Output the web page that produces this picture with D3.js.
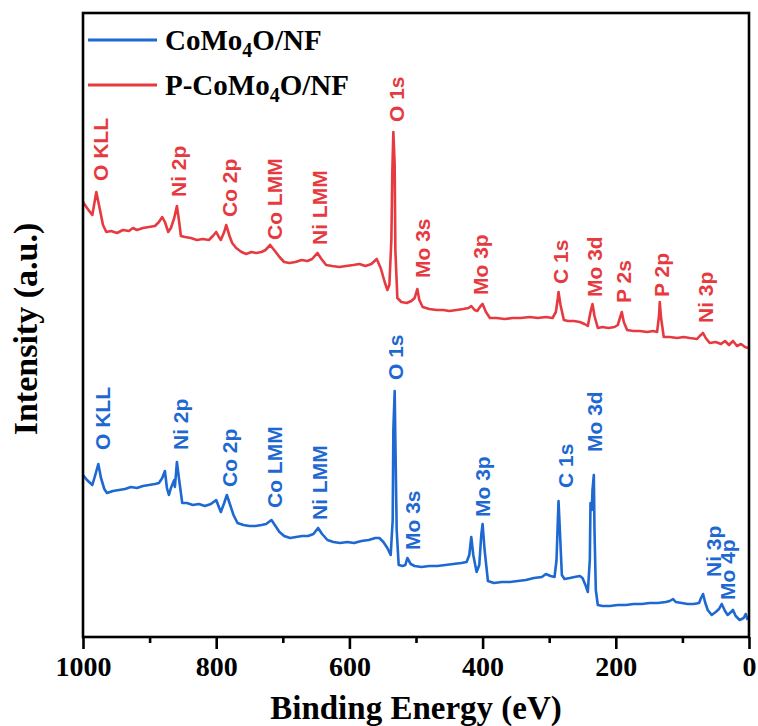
<!DOCTYPE html>
<html>
<head>
<meta charset="utf-8">
<script src="https://cdn.jsdelivr.net/npm/d3@7"></script>
<style>
  body { margin: 0; background: #fff; }
  svg { display: block; }
</style>
</head>
<body>
<svg id="chart"></svg>
<script>
// survey spectra, [binding energy (eV), intensity (a.u.)]
const pCoMoSpectrum = [
  [1000,4350],[994,4290],[986,4220],[980,4450],[976,4320],[970,4120],[965,4050],[958,4060],
  [949,4040],[940,4070],[931,4060],[925,4090],[919,4070],[910,4090],[901,4100],[892,4110],
  [886,4150],[881,4200],[877,4150],[872,4050],[868,4090],[863,4190],[859,4310],[856,4170],
  [853,4010],[847,4000],[838,3990],[829,3970],[820,3980],[811,3970],[805,4010],[800,4050],
  [796,4000],[793,3970],[788,4050],[785,4120],[780,4010],[776,3940],[770,3890],[762,3850],
  [755,3830],[747,3850],[740,3840],[732,3850],[726,3870],[719,3920],[713,3870],[705,3800],
  [698,3750],[690,3740],[681,3750],[672,3770],[663,3760],[656,3780],[648,3840],[642,3780],
  [635,3720],[626,3710],[615,3700],[605,3710],[594,3720],[585,3730],[576,3710],[567,3730],
  [559,3780],[553,3690],[547,3550],[543,3470],[540,3520],[537,3970],[535.5,4670],[534,5050],
  [532,4720],[531,3870],[528,3390],[522,3350],[514,3340],[507,3360],[502,3390],[498,3480],
  [495,3370],[490,3300],[480,3280],[469,3270],[459,3270],[450,3260],[439,3270],[429,3280],
  [421,3290],[417,3310],[412,3270],[408,3260],[403,3310],[400,3330],[395,3250],[389,3190],
  [379,3190],[367,3180],[355,3190],[343,3190],[329,3200],[317,3190],[305,3200],[295,3190],
  [290,3250],[287,3390],[286,3450],[283,3320],[278,3170],[272,3160],[263,3160],[254,3150],
  [247,3130],[242,3110],[238,3250],[235,3330],[232,3210],[227,3090],[220,3100],[211,3090],
  [202,3100],[197,3120],[192,3230],[191,3250],[188,3150],[183,3070],[174,3060],[164,3060],
  [153,3050],[144,3060],[138,3050],[135,3220],[134,3350],[132,3190],[128,3000],[119,3000],
  [108,2990],[98,3000],[89,2990],[78,2980],[74,3010],[69,3040],[65,2990],[59,2940],
  [50,2950],[42,2930],[36,2960],[30,2920],[24,2960],[18,2910],[12,2930],[6,2900],[1.5,2890]
]

const coMoSpectrum = [
  [1000,1620],[994,1570],[986,1520],[982,1610],[977,1730],[973,1590],[968,1480],[964,1440],
  [955,1460],[946,1470],[937,1480],[928,1500],[919,1490],[910,1510],[901,1520],[892,1530],
  [886,1540],[881,1590],[877,1660],[874,1490],[871,1420],[868,1490],[863,1570],[862,1500],
  [859,1750],[856,1590],[851,1340],[844,1340],[835,1320],[826,1330],[817,1310],[808,1330],
  [800,1370],[796,1300],[793,1250],[788,1340],[784,1420],[779,1320],[774,1220],[768,1140],
  [759,1120],[750,1110],[741,1110],[732,1120],[725,1130],[717,1170],[711,1110],[705,1050],
  [698,1010],[689,990],[680,1000],[671,1010],[662,1010],[654,1030],[647,1090],[641,1030],
  [633,970],[624,950],[614,940],[603,950],[593,940],[582,960],[571,970],[561,990],
  [555,990],[549,950],[543,890],[538,820],[535,1170],[534,2070],[532,2460],[531,1970],
  [529,1070],[526,720],[520,710],[516,720],[513,790],[508,730],[502,710],[492,700],
  [480,710],[468,710],[456,720],[444,730],[432,740],[424,750],[420,820],[417,1000],
  [414,820],[409,650],[405,720],[402,1020],[400,1130],[397,870],[392,560],[383,540],
  [371,550],[359,550],[347,560],[335,570],[323,590],[311,600],[305,630],[298,610],
  [292,600],[289,770],[287,1170],[286,1360],[284,1070],[281,620],[277,580],[269,590],
  [262,600],[254,610],[250,590],[245,510],[242,450],[239,770],[238,1340],[236,1270],
  [235,1470],[233,1620],[232,1070],[230,470],[227,320],[220,310],[209,310],[197,320],
  [185,320],[173,330],[161,330],[149,340],[137,340],[125,350],[119,360],[114,380],
  [110,350],[101,340],[92,330],[83,330],[75,340],[72,390],[69,430],[66,350],
  [62,270],[56,220],[50,250],[45,280],[41,330],[36,260],[32,220],[27,250],
  [24,270],[20,210],[14,170],[8,190],[5,230],[2,170]
]

// peak labels: name, energy where label sits, intensity at label foot
const pCoMoPeaks = [
  ['O KLL',974,4560],['Ni 2p',856,4400],['Co 2p',780,4200],['Co LMM',713,3970],
  ['Ni LMM',645,3920],['O 1s',529,5150],['Mo 3s',490,3590],['Mo 3p',403,3420],
  ['C 1s',283,3530],['Mo 3d',232,3400],['P 2s',189,3340],['P 2p',131,3400],['Ni 3p',65,3140]
]
const coMoPeaks = [
  ['O KLL',971,1870],['Ni 2p',853,1870],['Co 2p',780,1500],['Co LMM',713,1290],
  ['Ni LMM',645,1170],['O 1s',531,2570],['Mo 3s',505,870],['Mo 3p',400,1200],
  ['C 1s',275,1490],['Mo 3d',232,1850],['Ni 3p',54,600],['Mo 4p',32,370]
]

const majorTicks = [1000, 800, 600, 400, 200, 0]
const minorTicks = [900, 700, 500, 300, 100]

const blue = '#1e68d2', red = '#e63a40'
const serif = '"Liberation Serif", "Times New Roman", serif'
const sans = '"Liberation Sans", Arial, sans-serif'

let width = 758, height = 726
let m = {left: 83, right: 9, top: 13, bottom: 89}

let svg = d3.select('#chart')
            .attr('width', width)
            .attr('height', height)

let x = d3.scaleLinear()
          .domain([1000, 0])
          .range([m.left, width - m.right])
let y = d3.scaleLinear()
          .domain([0, 6240])
          .range([height - m.bottom, m.top])

let line = d3.line()
             .x(d => x(d[0]))
             .y(d => y(d[1]))

// spectra
let series = [
  {data: coMoSpectrum, color: blue, peaks: coMoPeaks},
  {data: pCoMoSpectrum, color: red, peaks: pCoMoPeaks}
]
series.forEach(s => {
  svg.append('path')
     .datum(s.data)
     .attr('d', line)
     .attr('fill', 'none')
     .attr('stroke', s.color)
     .attr('stroke-width', 2.6)
     .attr('stroke-linejoin', 'round')

  svg.selectAll(null)
     .data(s.peaks)
     .enter()
     .append('text')
     .attr('transform', d => `translate(${x(d[1])},${y(d[2])}) rotate(-90)`)
     .attr('dy', '0.36em')
     .attr('fill', s.color)
     .style('font-family', sans)
     .style('font-weight', 'bold')
     .style('font-size', '21px')
     .text(d => d[0])
})

// bottom axis, major + minor ticks
let xAxis = svg.append('g')
               .attr('transform', `translate(0,${height - m.bottom})`)
               .call(d3.axisBottom(x).tickValues(majorTicks).tickFormat(d3.format('d'))
                       .tickSize(12).tickSizeOuter(0).tickPadding(7))
xAxis.select('.domain').remove()
xAxis.selectAll('line').attr('stroke', '#000').attr('stroke-width', 2.6)
xAxis.selectAll('text')
     .style('font-family', serif)
     .style('font-weight', 'bold')
     .style('font-size', '28px')
     .attr('fill', '#000')

svg.append('g')
   .attr('transform', `translate(0,${height - m.bottom})`)
   .call(d3.axisBottom(x).tickValues(minorTicks).tickSize(6).tickFormat(''))
   .call(g => g.select('.domain').remove())
   .selectAll('line').attr('stroke', '#000').attr('stroke-width', 2.6)

// frame
svg.append('rect')
   .attr('x', m.left)
   .attr('y', m.top)
   .attr('width', width - m.left - m.right)
   .attr('height', height - m.top - m.bottom)
   .attr('fill', 'none')
   .attr('stroke', '#000')
   .attr('stroke-width', 2.6)

// axis titles
svg.append('text')
   .attr('x', (m.left + width - m.right) / 2)
   .attr('y', 719)
   .attr('text-anchor', 'middle')
   .style('font-family', serif)
   .style('font-weight', 'bold')
   .style('font-size', '33px')
   .text('Binding Energy (eV)')

svg.append('text')
   .attr('transform', `translate(37,${(m.top + height - m.bottom) / 2 + 4}) rotate(-90)`)
   .attr('text-anchor', 'middle')
   .style('font-family', serif)
   .style('font-weight', 'bold')
   .style('font-size', '34px')
   .text('Intensity (a.u.)')

// legend
let legendNames = ['CoMo', 'P-CoMo']
let legend = svg.selectAll('.legend')
                .data(series)
                .enter()
                .append('g')
                .classed('legend', true)
                .attr('transform', (d, i) => `translate(88,${40 + i * 45})`)
legend.append('line')
      .attr('x1', 0).attr('x2', 69)
      .attr('stroke', d => d.color)
      .attr('stroke-width', 3)
let lt = legend.append('text')
               .attr('x', 77)
               .attr('y', 10)
               .style('font-family', serif)
               .style('font-weight', 'bold')
               .style('font-size', '29px')
lt.append('tspan').text((d, i) => legendNames[i])
lt.append('tspan').attr('dy', 7).style('font-size', '20px').text('4')
lt.append('tspan').attr('dy', -7).text('O/NF')
</script>
</body>
</html>
